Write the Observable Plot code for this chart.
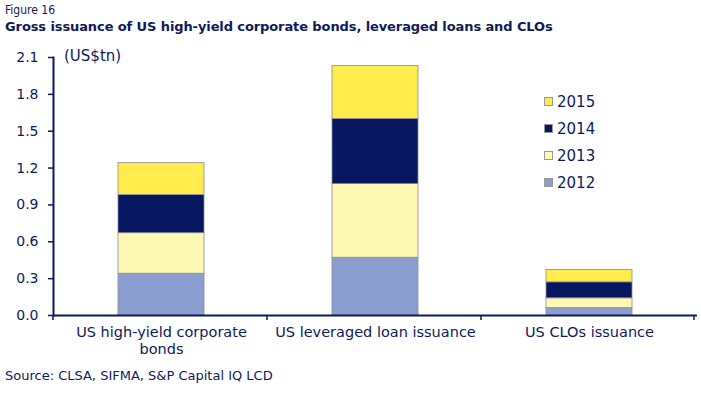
<!DOCTYPE html>
<html><head><meta charset="utf-8">
<script src="https://cdn.jsdelivr.net/npm/d3@7"></script>
<script src="https://cdn.jsdelivr.net/npm/@observablehq/plot@0.6"></script>
<style>
body{margin:0;background:#fff;font-family:"DejaVu Sans",sans-serif;color:#0f1a5c;}
#wrap{position:relative;width:701px;height:394px;}
#fig{position:absolute;left:5px;top:3px;font-size:12px;font-family:"DejaVu Sans Condensed","DejaVu Sans",sans-serif;}
#title{position:absolute;left:5px;top:19px;font-size:13px;font-weight:bold;letter-spacing:-0.1px;}
#chart{position:absolute;left:0;top:40px;}
#src{position:absolute;left:5px;top:368px;font-size:13px;}
#legend{position:absolute;left:544px;top:88px;font-size:15px;}
#legend div{height:27px;display:flex;align-items:center;}
#legend span.sw{display:inline-block;width:9px;height:9px;margin-right:4px;border:1px solid #999;box-sizing:border-box;}
#unit{position:absolute;left:64px;top:47px;font-size:15px;}
</style></head>
<body><div id="wrap">
<div id="fig">Figure 16</div>
<div id="title">Gross issuance of US high-yield corporate bonds, leveraged loans and CLOs</div>
<div id="chart"></div>
<div id="unit">(US$tn)</div>
<div id="legend"></div>
<div id="src">Source: CLSA, SIFMA, S&amp;P Capital IQ LCD</div>
</div>
<script>
const categories = ["US high-yield corporate\nbonds", "US leveraged loan issuance", "US CLOs issuance"];
const years = ["2012", "2013", "2014", "2015"];
const v2012 = [0.34, 0.47, 0.06];
const v2013 = [0.33, 0.60, 0.08];
const v2014 = [0.31, 0.53, 0.13];
const v2015 = [0.26, 0.43, 0.10];
const yTicks = [0, 0.3, 0.6, 0.9, 1.2, 1.5, 1.8, 2.1];
const colors = ["#8c9ecf", "#fef9b2", "#06175f", "#ffeb4c"];

const series = [v2012, v2013, v2014, v2015];
const data = [];
years.forEach((yr, j) => categories.forEach((c, i) => data.push({cat: c, year: yr, value: series[j][i]})));

const navy = "#0f1a5c";
const chart = Plot.plot({
  width: 701, height: 325,
  marginLeft: 53, marginRight: 4, marginTop: 17, marginBottom: 50,
  style: {fontFamily: "DejaVu Sans, sans-serif", fontSize: "14.5px", color: navy, background: "white"},
  x: {domain: categories, paddingInner: 0.6, paddingOuter: 0.3, label: null},
  y: {domain: [0, 2.1], label: null},
  color: {domain: years, range: colors},
  marks: [
    Plot.barY(data, {x: "cat", y: "value", fill: "year", stroke: "#8a8a9a", strokeWidth: 0.8}),
    Plot.axisY({ticks: yTicks, tickFormat: d3.format(".1f"), tickSize: 5, tickPadding: 10, stroke: navy, strokeWidth: 1.5, fontSize: 14}),
    Plot.axisX({tickSize: 0, tickPadding: 9, lineHeight: 1.2, fontSize: 14.5}),
    Plot.ruleY([0], {stroke: navy, strokeWidth: 2}),
    Plot.frame({anchor: "left", stroke: navy, strokeWidth: 2})
  ]
});
document.getElementById("chart").appendChild(chart);

// category boundary ticks on the x axis, placed from the library's band scale
const xs = chart.scale("x"), ys = chart.scale("y");
const y0 = ys.apply(0);
const svg = d3.select(chart);
for (let i = 0; i <= categories.length; i++) {
  const px = xs.range[0] + i * xs.step + (i === categories.length ? -1 : 0);
  svg.append("line").attr("x1", px).attr("x2", px).attr("y1", y0).attr("y2", y0 + 5)
    .attr("stroke", navy).attr("stroke-width", 1.5);
}

const lg = d3.select("#legend");
years.slice().reverse().forEach(yr => {
  const row = lg.append("div");
  row.append("span").attr("class", "sw").style("background", colors[years.indexOf(yr)]);
  row.append("span").text(yr);
});
</script>
</body></html>
